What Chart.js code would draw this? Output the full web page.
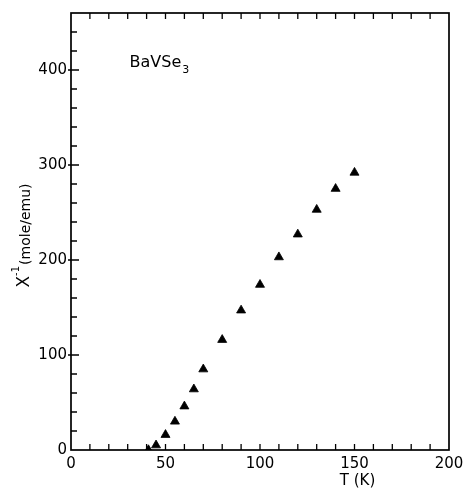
<!DOCTYPE html>
<html>
<head>
<meta charset="utf-8">
<script src="https://cdn.jsdelivr.net/npm/chart.js@4.4.1/dist/chart.umd.min.js"></script>
<style>
  html, body { margin: 0; padding: 0; background: #fff; }
  #wrap { width: 465px; height: 488px; position: relative; }
</style>
</head>
<body>
<div id="wrap"><canvas id="c" width="465" height="488"></canvas></div>
<script>
// Data
const temperatureK = [41, 45, 50, 55, 60, 65, 70, 80, 90, 100, 110, 120, 130, 140, 150];
const inverseChi   = [0, 5, 16, 30, 46, 64, 85, 116, 147, 174, 203, 227, 253, 275, 292];
const xLabelValues = [0, 50, 100, 150, 200];
const yLabelValues = [0, 100, 200, 300, 400];
const xTitle = 'T (K)';
const compound = { main: 'BaVSe', sub: '3' };

const FONT = '"DejaVu Sans", sans-serif';

const framePlugin = {
  id: 'frame',
  afterDraw(chart) {
    const ctx = chart.ctx;
    const a = chart.chartArea;
    const xs = chart.scales.x, ys = chart.scales.y;
    ctx.save();
    ctx.strokeStyle = '#000';
    ctx.lineWidth = 1.7;
    ctx.strokeRect(a.left, a.top, a.right - a.left, a.bottom - a.top);
    ctx.lineWidth = 1.3;
    ctx.beginPath();
    xs.ticks.forEach(t => {
      const px = xs.getPixelForValue(t.value);
      if (t.value <= xs.min || t.value >= xs.max) return;
      ctx.moveTo(px, a.bottom); ctx.lineTo(px, a.bottom - 6);
      ctx.moveTo(px, a.top); ctx.lineTo(px, a.top + 6);
    });
    ys.ticks.forEach(t => {
      const py = ys.getPixelForValue(t.value);
      if (t.value <= ys.min || t.value >= ys.max) return;
      const major = yLabelValues.includes(t.value);
      ctx.moveTo(a.left - (major ? 3 : 0), py); ctx.lineTo(a.left + (major ? 8 : 6), py);
    });
    ctx.stroke();

    // x-axis title, centred under T = 150 as in the reference
    ctx.fillStyle = '#000';
    ctx.font = '15px ' + FONT;
    ctx.textAlign = 'center';
    ctx.textBaseline = 'alphabetic';
    ctx.fillText(xTitle, xs.getPixelForValue(150) + 3, a.bottom + 35);

    // y-axis title (rotated), with superscript
    ctx.save();
    ctx.translate(29, (a.top + a.bottom) / 2 + 4);
    ctx.rotate(-Math.PI / 2);
    ctx.textAlign = 'left';
    const p1 = 'X', p2 = '-1', p3 = '(mole/emu)';
    ctx.font = '17px ' + FONT; const w1 = ctx.measureText(p1).width;
    ctx.font = '10px ' + FONT; const w2 = ctx.measureText(p2).width;
    ctx.font = '14px ' + FONT; const w3 = ctx.measureText(p3).width;
    let x0 = -(w1 + w2 + w3 + 1) / 2;
    ctx.font = '17px ' + FONT; ctx.fillText(p1, x0, 0); x0 += w1;
    ctx.font = '10px ' + FONT; ctx.fillText(p2, x0, -10); x0 += w2 + 1;
    ctx.font = '14px ' + FONT; ctx.fillText(p3, x0, 1);
    ctx.restore();

    // compound label
    ctx.textAlign = 'left';
    ctx.font = '16px ' + FONT;
    const lx = xs.getPixelForValue(31), ly = ys.getPixelForValue(403);
    ctx.fillText(compound.main, lx, ly);
    const wm = ctx.measureText(compound.main).width;
    ctx.font = '11px ' + FONT;
    ctx.fillText(compound.sub, lx + wm + 1, ly + 6);
    ctx.restore();
  }
};

new Chart(document.getElementById('c'), {
  type: 'scatter',
  data: {
    datasets: [{
      data: temperatureK.map((t, i) => ({ x: t, y: inverseChi[i] })),
      pointStyle: 'triangle',
      pointRadius: 5.2,
      pointHoverRadius: 5.2,
      backgroundColor: '#000',
      borderColor: '#000',
      borderWidth: 0.8
    }]
  },
  options: {
    responsive: false,
    animation: false,
    events: [],
    layout: { padding: { top: 13, right: 16, left: 0, bottom: 0 } },
    plugins: { legend: { display: false }, tooltip: { enabled: false } },
    scales: {
      x: {
        type: 'linear', min: 0, max: 200,
        afterFit(s) { s.height = 38; s.paddingLeft = 0; s.paddingRight = 0; },
        grid: { display: false, drawTicks: false },
        border: { display: false },
        ticks: {
          stepSize: 10, autoSkip: false, maxRotation: 0, padding: 5,
          color: '#000', font: { family: FONT, size: 15 },
          callback: v => xLabelValues.includes(v) ? String(v) : ''
        }
      },
      y: {
        type: 'linear', min: 0, max: 460,
        afterFit(s) { s.width = 71; s.paddingTop = 0; s.paddingBottom = 0; },
        grid: { display: false, drawTicks: false },
        border: { display: false },
        ticks: {
          stepSize: 20, autoSkip: false, padding: 4,
          color: '#000', font: { family: FONT, size: 15 },
          callback: v => yLabelValues.includes(v) ? String(v) : ''
        }
      }
    }
  },
  plugins: [framePlugin]
});
</script>
</body>
</html>
